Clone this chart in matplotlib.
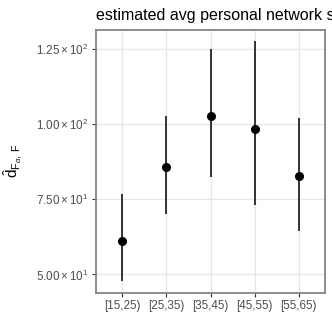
import matplotlib
matplotlib.use('Agg')
import matplotlib.pyplot as plt
import numpy as np

plt.rcParams['font.family'] = ['Liberation Sans', 'DejaVu Sans']
plt.rcParams['mathtext.fontset'] = 'custom'
plt.rcParams['mathtext.rm'] = 'Liberation Sans'
plt.rcParams['mathtext.it'] = 'Liberation Sans:italic'
plt.rcParams['mathtext.sf'] = 'Liberation Sans'

# age groups and estimates
groups = ['[15,25)', '[25,35)', '[35,45)', '[45,55)', '[55,65)']
est = [61.0, 85.6, 102.7, 98.4, 82.7]
ci_low = [47.8, 70.0, 82.5, 73.1, 64.4]
ci_high = [76.9, 102.7, 124.9, 127.5, 101.9]

yticks = [50, 75, 100, 125]
ytick_labels = [r'$5.00\times10^{1}$', r'$7.50\times10^{1}$',
                r'$1.00\times10^{2}$', r'$1.25\times10^{2}$']

fig = plt.figure(figsize=(3.32, 3.32), dpi=100)
ax = fig.add_axes([96/332, 39/332, 229/332, 263.5/332])

x = np.arange(1, len(groups) + 1)
ax.vlines(x, ci_low, ci_high, color='black', lw=1.1, zorder=3)
ax.plot(x, est, 'o', color='black', ms=5.5, zorder=4)

ax.set_xlim(0.4, 5.6)
lo, hi = min(ci_low), max(ci_high)
pad = (hi - lo) * 0.05
ax.set_ylim(lo - pad, hi + pad)

ax.set_xticks(x)
ax.set_xticklabels(groups)
ax.set_yticks(yticks)
ax.set_yticklabels(ytick_labels)

ax.grid(True, color='#e6e6e6', lw=0.9)
ax.set_axisbelow(True)
for s in ax.spines.values():
    s.set_color('#858585')
    s.set_linewidth(1.3)
ax.tick_params(axis='both', colors='#4d4d4d', labelsize=8.4, length=3.2,
               width=0.8, pad=2)
ax.tick_params(axis='both', color='#333333')

ax.set_ylabel(r'$\hat{\mathrm{d}}_{\mathrm{F}_{\alpha},\,\mathrm{F}}$',
              fontsize=11, labelpad=9)

fig.text(96/332, 1 - 20/332, 'estimated avg personal network size',
         fontsize=11.5, ha='left', va='baseline', color='black')

fig.savefig('out.png', dpi=100)
